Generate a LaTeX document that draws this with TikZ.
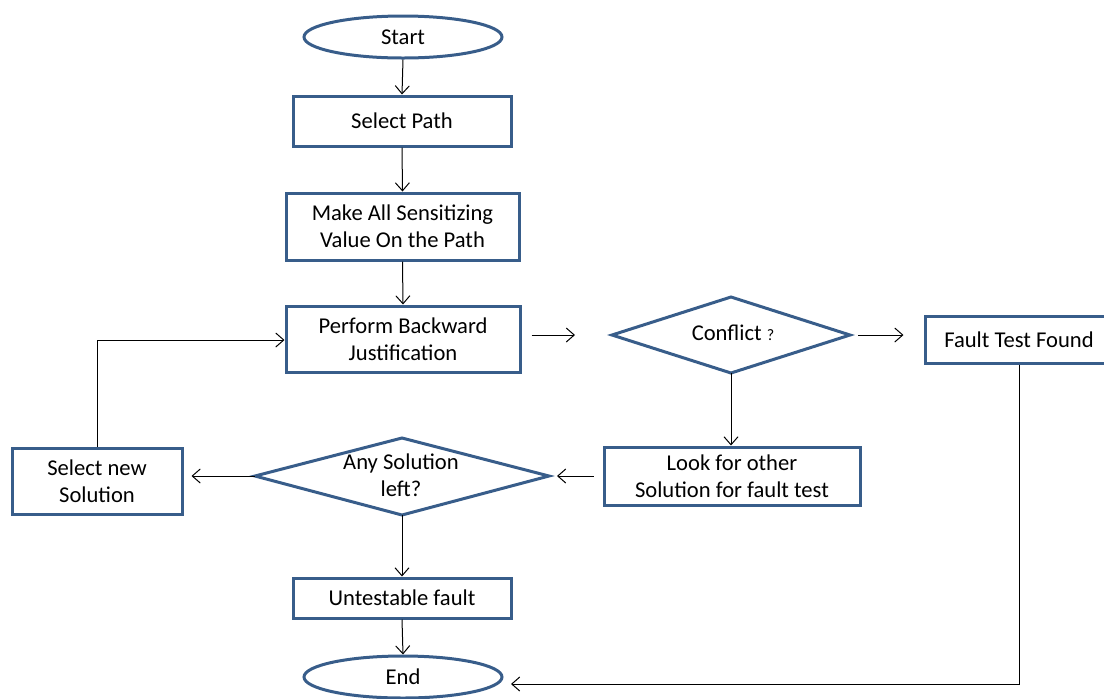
\documentclass[tikz,border=0pt]{standalone}
\usepackage{fontspec}
\setmainfont{Carlito}
\usetikzlibrary{shapes.geometric,arrows.meta}
\definecolor{edgeblue}{HTML}{385D8A}
\begin{document}
\begin{tikzpicture}[x=0.5pt,y=-0.5pt,
  font=\fontsize{11.3}{13.6}\selectfont,
  box/.style={draw=edgeblue,line width=1.5pt,fill=white,inner sep=0pt,align=center},
  term/.style={draw=edgeblue,line width=1.5pt,ellipse,inner sep=0pt},
  dialine/.style={draw=edgeblue,line width=1.5pt},
  conn/.style={draw=black,line width=0.5pt},
  arr/.style={conn,-{Straight Barb[length=4pt,width=7pt]}}]
\useasboundingbox (0,0) rectangle (1104,698);
\node[term,minimum width=99pt,minimum height=21pt] (start) at (403,37) {Start};
\node[box,minimum width=109pt,minimum height=25pt] (sel) at (402,121) {Select Path};
\node[box,minimum width=116.5pt,minimum height=33.5pt] (make) at (402.5,226.5) {Make All Sensitizing\\Value On the Path};
\node[box,minimum width=117pt,minimum height=33pt] (perf) at (403,339) {Perform Backward\\Justification};
% Conflict diamond
\coordinate (confL) at (612,335);
\coordinate (confT) at (731,297);
\coordinate (confR) at (850,335);
\coordinate (confB) at (731,373);
\path[dialine] (confL) -- (confT) -- (confR) -- (confB) -- cycle;
\node (conf) at (733,333) {Conflict {\fontsize{8}{9}\selectfont ?}};
\node[box,minimum width=94pt,minimum height=23.5pt] (fault) at (1019,339.5) {Fault Test Found};
\node[box,minimum width=128pt,minimum height=29pt] (look) at (732,476) {Look for other\\Solution for fault test};
% Any Solution diamond
\coordinate (anyL) at (255,476);
\coordinate (anyT) at (402,438);
\coordinate (anyR) at (549,476);
\coordinate (anyB) at (402,515);
\path[dialine] (anyL) -- (anyT) -- (anyR) -- (anyB) -- cycle;
\node[align=center] (any) at (401,475) {Any Solution\\left?};
\node[box,minimum width=85pt,minimum height=33pt] (new) at (97,481) {Select new\\Solution};
\node[box,minimum width=109pt,minimum height=20pt] (unt) at (402,598) {Untestable fault};
\node[term,minimum width=99pt,minimum height=21pt] (end) at (403,677) {End};
% connectors
\draw[arr] (start.south) -- (sel.north);
\draw[arr] (sel.south) -- (make.north);
\draw[arr] (make.south) -- (perf.north);
\draw[arr,shorten <=5pt,shorten >=18.5pt] (perf.east |- confL) -- (confL);
\draw[arr,shorten <=4pt,shorten >=10pt] (confR) -- (fault.west |- confR);
\draw[arr] (confB) -- (confB |- look.north);
\draw[arr,shorten <=4.5pt,shorten >=4pt] (look.west |- anyR) -- (anyR);
\draw[arr,shorten >=4pt] (anyL) -- (new.east |- anyL);
\coordinate (loopc) at (97,340);
\draw[arr] (new.north) -- (loopc) -- (perf.west |- loopc);
\draw[arr] (anyB) -- (unt.north);
\draw[arr] (unt.south) -- (end.north);
\coordinate (fr) at (1019,684);
\coordinate (ftip) at (511,684);
\draw[arr] (fault.south) -- (fr) -- (ftip);
\end{tikzpicture}
\end{document}
